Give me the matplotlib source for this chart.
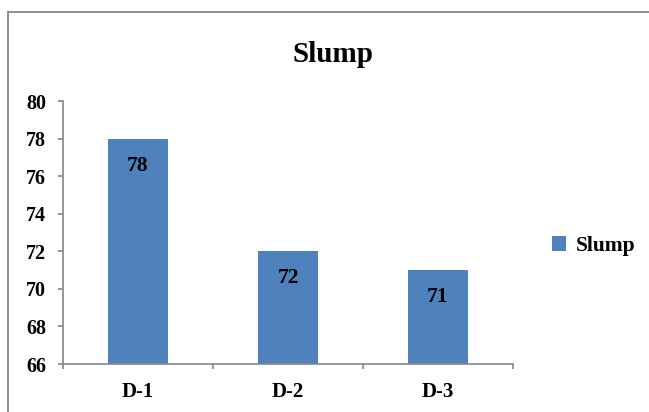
import matplotlib
matplotlib.use("Agg")
import matplotlib.pyplot as plt
from matplotlib.lines import Line2D

categories = ["D-1", "D-2", "D-3"]
slump = [78, 72, 71]
yticks = [66, 68, 70, 72, 74, 76, 78, 80]

plt.rcParams['font.family'] = ['Liberation Serif', 'DejaVu Serif']
plt.rcParams['font.weight'] = 'bold'

fig = plt.figure(figsize=(6.49, 4.12), dpi=100)
ax = fig.add_axes([63/649, 1 - 364/412, 450/649, 263/412])

xs = list(range(len(categories)))
bars = ax.bar(xs, slump, width=0.4, color="#4F81BD", label="Slump", zorder=2)

# value labels sit inside the bar, just under its top
for x, v in zip(xs, slump):
    ax.annotate(str(v), (x, v), xytext=(0, -19.5), textcoords="offset points",
                ha="center", va="center", fontsize=15.5, fontweight="bold")

ax.set_xlim(-0.5, len(categories) - 0.5)
ax.set_ylim(yticks[0], yticks[-1])
ax.set_yticks(yticks)
ax.set_xticks(xs)
ax.set_xticklabels(categories)
ax.set_xticks([i - 0.5 for i in range(len(categories) + 1)], minor=True)

ax.tick_params(axis="y", length=3.6, width=1.2, color="#868686", pad=8.5, labelsize=14.5)
ax.tick_params(axis="x", which="major", length=0, pad=13, labelsize=15)
ax.tick_params(axis="x", which="minor", length=3.6, width=1.2, color="#868686")

for side in ("top", "right"):
    ax.spines[side].set_visible(False)
for side in ("left", "bottom"):
    ax.spines[side].set_color("#868686")
    ax.spines[side].set_linewidth(1.2)

fig.text(333/649, 1 - 55/412, "Slump", ha="center", va="center",
         fontsize=21, fontweight="bold")

fig.legend(handles=[bars], labels=["Slump"], loc="center left",
           bbox_to_anchor=(533/649, 1 - 246/412), frameon=False,
           handlelength=0.65, handleheight=0.65, handletextpad=0.45,
           prop={"size": 15.5, "weight": "bold"})

# chart-area border (top and left edges visible)
fig.add_artist(Line2D([8/649, 1], [1 - 12/412, 1 - 12/412], transform=fig.transFigure,
                      color="#868686", linewidth=1.3))
fig.add_artist(Line2D([8/649, 8/649], [0, 1 - 12/412], transform=fig.transFigure,
                      color="#868686", linewidth=1.3))

fig.savefig("out.png", dpi=100)
